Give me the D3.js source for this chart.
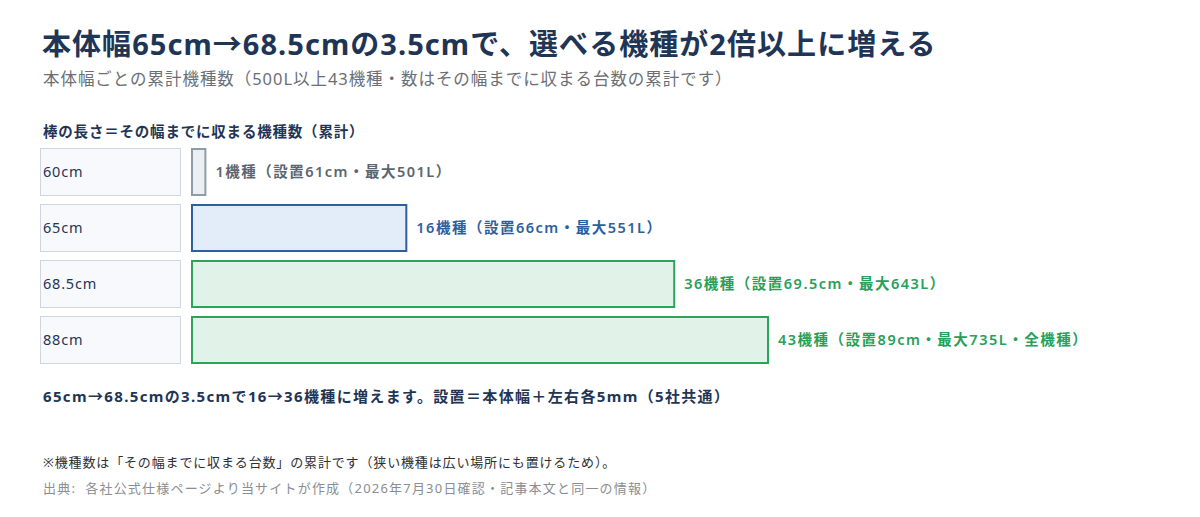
<!DOCTYPE html>
<html><head><meta charset="utf-8">
<script src="https://cdn.jsdelivr.net/npm/d3@7"></script>
<style>
html,body{margin:0;padding:0;background:#fff;}
svg{display:block;font-family:"Noto Sans","Noto Sans CJK JP",sans-serif;}
</style></head>
<body>
<svg id="chart" width="1200" height="517"></svg>
<script>
const categories = ["60cm", "65cm", "68.5cm", "88cm"];
const counts = [1, 16, 36, 43];
const valueLabels = [
  "1機種（設置61cm・最大501L）",
  "16機種（設置66cm・最大551L）",
  "36機種（設置69.5cm・最大643L）",
  "43機種（設置89cm・最大735L・全機種）"
];
const tones = ["grey", "blue", "green", "green"];

const palette = {
  grey: {fill: "#eceff2", stroke: "#8d9ca8", text: "#5b6670"},
  blue: {fill: "#e3edf9", stroke: "#2f5f9c", text: "#2c5f9e"},
  green: {fill: "#e1f3e8", stroke: "#2ba55c", text: "#27a05a"}
};

const svg = d3.select("#chart");
const navy = "#1f3556";

svg.append("text").attr("x", 42).attr("y", 55)
  .attr("font-size", 29).attr("font-weight", 700).attr("fill", navy)
  .attr("letter-spacing", 1.05)
  .text("本体幅65cm→68.5cmの3.5cmで、選べる機種が2倍以上に増える");
svg.append("text").attr("x", 43).attr("y", 85)
  .attr("font-size", 16.5).attr("fill", "#6b6f75")
  .attr("letter-spacing", 0.95)
  .text("本体幅ごとの累計機種数（500L以上43機種・数はその幅までに収まる台数の累計です）");
svg.append("text").attr("x", 43).attr("y", 137)
  .attr("font-size", 14.5).attr("font-weight", 700).attr("fill", navy)
  .attr("letter-spacing", 0.8)
  .text("棒の長さ＝その幅までに収まる機種数（累計）");

const x = d3.scaleLinear().domain([0, 43]).range([192, 768]);
const y = d3.scaleBand().domain(categories).range([148, 364]).paddingInner(8/56).paddingOuter(0);

const rows = svg.append("g").selectAll("g").data(categories).join("g");

rows.append("rect")
  .attr("x", 40.5).attr("y", d => y(d) + 0.5)
  .attr("width", 140).attr("height", y.bandwidth() - 1)
  .attr("fill", "#f7f9fc").attr("stroke", "#cfd6df").attr("stroke-width", 1);
rows.append("text")
  .attr("x", 43).attr("y", d => y(d) + y.bandwidth() / 2 + 5)
  .attr("font-size", 14.5).attr("fill", navy)
  .attr("letter-spacing", 0.8)
  .text(d => d);

rows.append("rect")
  .attr("x", x(0)).attr("y", d => y(d) + 1)
  .attr("width", (d, i) => x(counts[i]) - x(0)).attr("height", y.bandwidth() - 2)
  .attr("fill", (d, i) => palette[tones[i]].fill)
  .attr("stroke", (d, i) => palette[tones[i]].stroke).attr("stroke-width", 2);

rows.append("text")
  .attr("x", (d, i) => x(counts[i]) + 10).attr("y", d => y(d) + y.bandwidth() / 2 + 5)
  .attr("font-size", 14.5).attr("font-weight", 600)
  .attr("letter-spacing", 1.5)
  .attr("fill", (d, i) => palette[tones[i]].text)
  .text((d, i) => valueLabels[i]);

svg.append("text").attr("x", 43).attr("y", 402)
  .attr("font-size", 15).attr("font-weight", 700).attr("fill", navy)
  .attr("letter-spacing", 1.35)
  .text("65cm→68.5cmの3.5cmで16→36機種に増えます。設置＝本体幅＋左右各5mm（5社共通）");
svg.append("text").attr("x", 43).attr("y", 467)
  .attr("font-size", 13).attr("fill", "#2e2f33")
  .attr("letter-spacing", 0.85)
  .text("※機種数は「その幅までに収まる台数」の累計です（狭い機種は広い場所にも置けるため）。");
svg.append("text").attr("x", 43).attr("y", 493)
  .attr("font-size", 13).attr("fill", "#8a8d92")
  .attr("letter-spacing", 1.2)
  .attr("xml:space", "preserve").style("white-space", "pre")
  .text("出典:  各社公式仕様ページより当サイトが作成（2026年7月30日確認・記事本文と同一の情報）");
</script>
</body></html>
